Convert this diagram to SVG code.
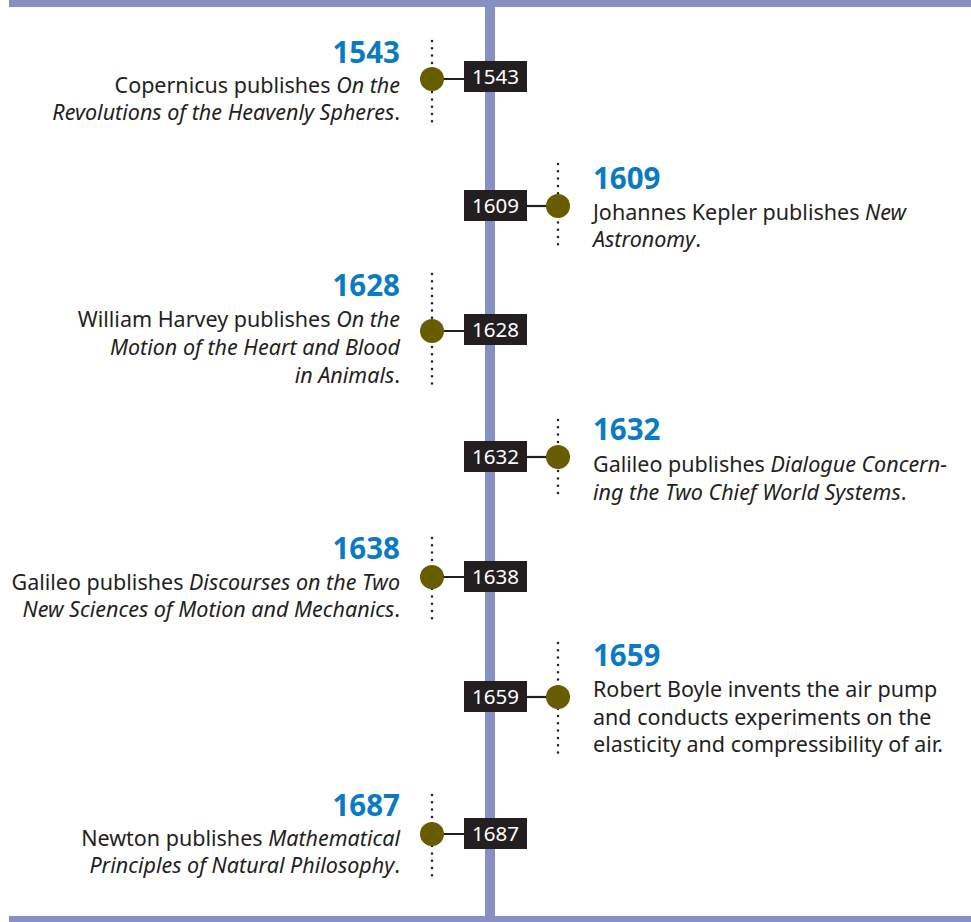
<svg xmlns="http://www.w3.org/2000/svg" width="971" height="922" viewBox="0 0 971 922">
<style>
.bar{fill:#8790c2}
.yr{font-family:"Noto Sans","Liberation Sans",sans-serif;font-weight:bold;font-size:29.5px;fill:#0a7bc1}
.ds{font-family:"Noto Sans","Liberation Sans",sans-serif;font-size:21.5px;fill:#231f20}
.it{font-style:italic}
.l{text-anchor:end}
.dot{fill:#675c00}
.dots{stroke:#231f20;stroke-width:2.5;stroke-linecap:round;stroke-dasharray:0 7.3;fill:none}
.box{fill:#231f20}
.bt{font-family:"Noto Sans","Liberation Sans",sans-serif;font-size:20.5px;fill:#ffffff;text-anchor:middle}
.con{stroke:#231f20;stroke-width:2.2}
</style>
<g id="frame">
<rect class="bar" x="9" y="0" width="962" height="7"/>
<rect class="bar" x="9" y="916" width="962" height="6"/>
<rect class="bar" x="485" y="0" width="10" height="922"/>
</g>
<g id="connectors">
<line class="con" x1="431" y1="79" x2="464" y2="79"/>
<line class="con" x1="527" y1="206" x2="558" y2="206"/>
<line class="con" x1="431" y1="331" x2="464" y2="331"/>
<line class="con" x1="527" y1="457" x2="558" y2="457"/>
<line class="con" x1="431" y1="577" x2="464" y2="577"/>
<line class="con" x1="527" y1="697" x2="558" y2="697"/>
<line class="con" x1="431" y1="834" x2="464" y2="834"/>
</g>
<g id="e1543">
<line class="dots" x1="432" y1="41" x2="432" y2="122"/>
<circle class="dot" cx="432" cy="79" r="12"/>
<rect class="box" x="464" y="61" width="63" height="31"/>
<text class="bt" x="495.5" y="84">1543</text>
<text class="yr l" x="400" y="63">1543</text>
<text class="ds l" x="400" y="93">Copernicus publishes <tspan class="it">On the</tspan></text>
<text class="ds l" x="400" y="120"><tspan class="it">Revolutions of the Heavenly Spheres</tspan>.</text>
</g>
<g id="e1609">
<line class="dots" x1="558" y1="164" x2="558" y2="247"/>
<circle class="dot" cx="558" cy="206" r="12"/>
<rect class="box" x="464" y="190" width="63" height="31"/>
<text class="bt" x="495.5" y="213">1609</text>
<text class="yr" x="593" y="189">1609</text>
<text class="ds" x="593" y="220">Johannes Kepler publishes <tspan class="it">New</tspan></text>
<text class="ds" x="593" y="247"><tspan class="it">Astronomy</tspan>.</text>
</g>
<g id="e1628">
<line class="dots" x1="432" y1="274" x2="432" y2="386"/>
<circle class="dot" cx="432" cy="331" r="12"/>
<rect class="box" x="464" y="314" width="63" height="31"/>
<text class="bt" x="495.5" y="337">1628</text>
<text class="yr l" x="400" y="296">1628</text>
<text class="ds l" x="400" y="327">William Harvey publishes <tspan class="it">On the</tspan></text>
<text class="ds l" x="400" y="355"><tspan class="it">Motion of the Heart and Blood</tspan></text>
<text class="ds l" x="400" y="383"><tspan class="it">in Animals</tspan>.</text>
</g>
<g id="e1632">
<line class="dots" x1="558" y1="420" x2="558" y2="500"/>
<circle class="dot" cx="558" cy="457" r="12"/>
<rect class="box" x="464" y="441" width="63" height="31"/>
<text class="bt" x="495.5" y="464">1632</text>
<text class="yr" x="593" y="440">1632</text>
<text class="ds" x="593" y="472">Galileo publishes <tspan class="it">Dialogue Concern-</tspan></text>
<text class="ds" x="593" y="500"><tspan class="it">ing the Two Chief World Systems</tspan>.</text>
</g>
<g id="e1638">
<line class="dots" x1="432" y1="538" x2="432" y2="619"/>
<circle class="dot" cx="432" cy="577" r="12"/>
<rect class="box" x="464" y="561" width="63" height="31"/>
<text class="bt" x="495.5" y="584">1638</text>
<text class="yr l" x="400" y="559">1638</text>
<text class="ds l" x="400" y="590">Galileo publishes <tspan class="it">Discourses on the Two</tspan></text>
<text class="ds l" x="400" y="617"><tspan class="it">New Sciences of Motion and Mechanics</tspan>.</text>
</g>
<g id="e1659">
<line class="dots" x1="558" y1="643" x2="558" y2="754"/>
<circle class="dot" cx="558" cy="697" r="12"/>
<rect class="box" x="464" y="681" width="63" height="31"/>
<text class="bt" x="495.5" y="704">1659</text>
<text class="yr" x="593" y="666">1659</text>
<text class="ds" x="593" y="697">Robert Boyle invents the air pump</text>
<text class="ds" x="593" y="725">and conducts experiments on the</text>
<text class="ds" x="593" y="752">elasticity and compressibility of air.</text>
</g>
<g id="e1687">
<line class="dots" x1="432" y1="795" x2="432" y2="876"/>
<circle class="dot" cx="432" cy="834" r="12"/>
<rect class="box" x="464" y="818" width="63" height="31"/>
<text class="bt" x="495.5" y="841">1687</text>
<text class="yr l" x="400" y="816">1687</text>
<text class="ds l" x="400" y="846">Newton publishes <tspan class="it">Mathematical</tspan></text>
<text class="ds l" x="400" y="873"><tspan class="it">Principles of Natural Philosophy</tspan>.</text>
</g>
</svg>
